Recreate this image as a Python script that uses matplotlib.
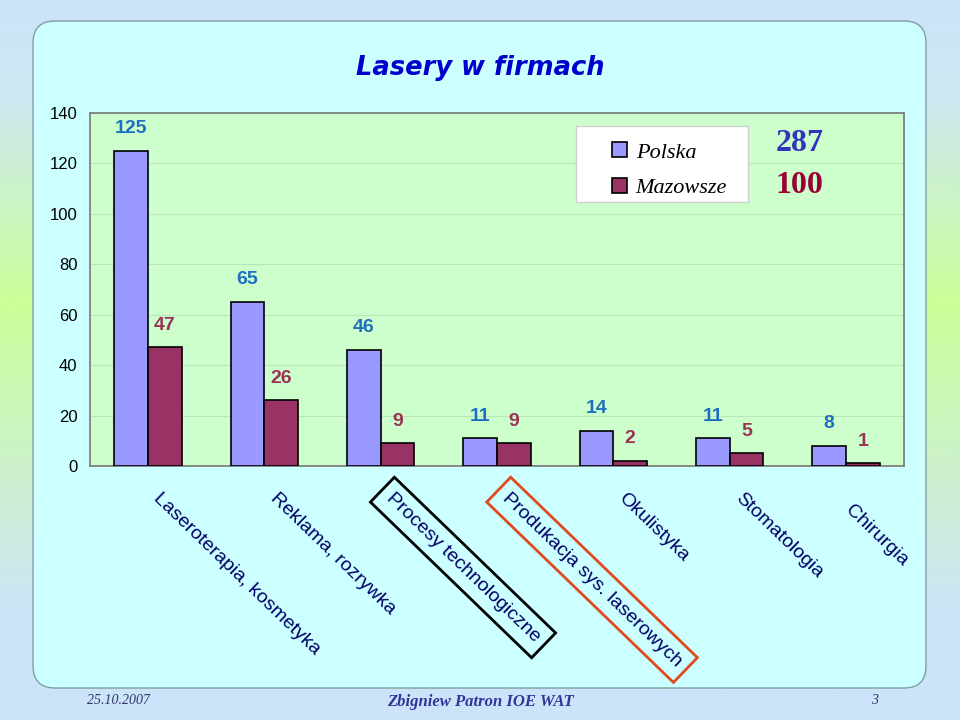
import numpy as np
import matplotlib
matplotlib.use("Agg")
import matplotlib.pyplot as plt
from matplotlib.patches import FancyBboxPatch, Rectangle
from matplotlib.colors import LinearSegmentedColormap
import matplotlib.transforms as mtransforms

categories = ['Laseroterapia, kosmetyka', 'Reklama, rozrywka', 'Procesy technologiczne',
              'Produkacja sys. laserowych', 'Okulistyka', 'Stomatologia', 'Chirurgia']
polska = [125, 65, 46, 11, 14, 11, 8]
mazowsze = [47, 26, 9, 9, 2, 5, 1]
totals = [287, 100]
yticks = [0, 20, 40, 60, 80, 100, 120, 140]

fig = plt.figure(figsize=(9.6, 7.2), dpi=100)

# background: vertical gradient + rounded panel, in pixel coordinates
bg = fig.add_axes([0, 0, 1, 1])
bg.set_xlim(0, 960)
bg.set_ylim(720, 0)
bg.axis('off')
cmap = LinearSegmentedColormap.from_list(
    'bg', [(0, '#cce4fa'), (0.14, '#cce8f0'), (0.42, '#ccff99'), (0.86, '#cce4fa'), (1, '#cce4fa')])
grad = np.linspace(0, 1, 256).reshape(-1, 1)
bg.imshow(grad, cmap=cmap, aspect='auto', extent=[0, 960, 720, 0], zorder=0)
panel = FancyBboxPatch((33, 21), 893, 667, boxstyle='round,pad=0,rounding_size=22',
                       facecolor='#ccffff', edgecolor='#7f9f9f', linewidth=1, zorder=1)
bg.add_patch(panel)

bg.text(480, 68, 'Lasery w firmach', ha='center', va='center', fontsize=18.5,
        fontweight='bold', fontstyle='italic', color='#0000cc', family='DejaVu Sans')
bg.text(87, 701, '25.10.2007', ha='left', va='center', fontsize=10,
        fontstyle='italic', color='#333366', family='Liberation Serif')
bg.text(480, 702, 'Zbigniew Patron IOE WAT', ha='center', va='center', fontsize=12,
        fontweight='bold', fontstyle='italic', color='#333399', family='Liberation Serif')
bg.text(875, 701, '3', ha='center', va='center', fontsize=10,
        fontstyle='italic', color='#333366', family='Liberation Serif')

# main chart
ax = fig.add_axes([90 / 960, 1 - 466 / 720, 814 / 960, 353 / 720])
ax.set_facecolor('#ccffcc')
x = np.arange(len(categories))
w = 0.29
ax.bar(x - w, polska, w, align='edge', color='#9999ff', edgecolor='black',
       linewidth=1.2, label='Polska', zorder=3)
ax.bar(x, mazowsze, w, align='edge', color='#993366', edgecolor='black',
       linewidth=1.2, label='Mazowsze', zorder=3)

for i in range(len(categories)):
    ax.annotate(str(polska[i]), (x[i] - w / 2, polska[i]), xytext=(0, 16),
                textcoords='offset points', ha='center', va='center', fontsize=14,
                fontweight='bold', color='#1f6fc0', family='Liberation Sans')
    ax.annotate(str(mazowsze[i]), (x[i] + w / 2, mazowsze[i]), xytext=(0, 16),
                textcoords='offset points', ha='center', va='center', fontsize=14,
                fontweight='bold', color='#993355', family='Liberation Sans')

ax.set_xlim(-0.5, len(categories) - 0.5)
ax.set_ylim(0, 140)
ax.set_yticks(yticks)
ax.set_yticklabels([str(t) for t in yticks], fontsize=12, family='Liberation Sans')
ax.tick_params(axis='y', length=0, pad=9)
ax.set_xticks([])
ax.grid(axis='y', color='#b9e6b9', linewidth=0.8, zorder=0)
for s in ax.spines.values():
    s.set_color('#808080')
    s.set_linewidth(1.3)

# category labels, rotated (last one sits a little lower, like in the slide)
boxes = {2: 'black', 3: '#e04a1f'}
trans = mtransforms.blended_transform_factory(ax.transData, ax.transAxes)
for i, c in enumerate(categories):
    kw = {}
    if i in boxes:
        kw['bbox'] = dict(boxstyle='square,pad=0.45', facecolor='none',
                          edgecolor=boxes[i], linewidth=2)
    off = (10, -17) if i < len(categories) - 1 else (6, -26)
    ax.annotate(c, (x[i], 0), xycoords=trans, xytext=off, textcoords='offset points',
                ha='left', va='top', rotation=-44, rotation_mode='anchor', fontsize=14,
                color='#000066', family='Liberation Sans', annotation_clip=False, **kw)

# legend with white box
ax.add_patch(Rectangle((0.597, 0.748), 0.211, 0.215, transform=ax.transAxes,
                       facecolor='white', edgecolor='#d0d0d0', linewidth=1, zorder=4))
leg = ax.legend(loc='upper left', bbox_to_anchor=(0.628, 0.948), frameon=False,
                borderpad=0, handlelength=0.65, handleheight=0.65, handletextpad=0.4,
                labelspacing=0.7, prop={'family': 'Liberation Serif', 'style': 'italic', 'size': 16})
leg.set_zorder(5)
ax.text(0.872, 0.913, str(totals[0]), transform=ax.transAxes, ha='center', va='center',
        fontsize=23, fontweight='bold', color='#3333bb', family='Liberation Serif', zorder=5)
ax.text(0.872, 0.795, str(totals[1]), transform=ax.transAxes, ha='center', va='center',
        fontsize=23, fontweight='bold', color='#990033', family='Liberation Serif', zorder=5)

fig.savefig('out.png', dpi=100)
